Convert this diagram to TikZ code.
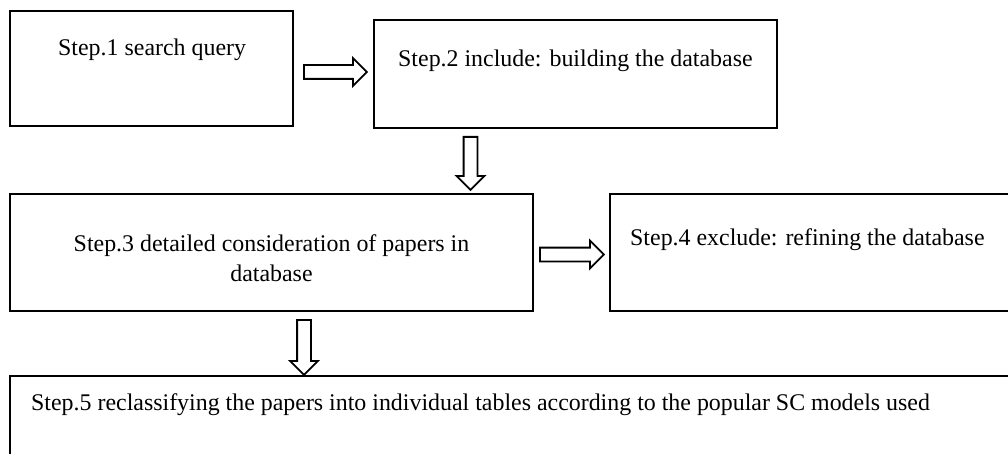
\documentclass[tikz,border=0pt]{standalone}
\usepackage{fontspec}
\setmainfont{Liberation Serif}
\usepackage{tikz}
\usetikzlibrary{positioning, shapes.arrows}

\begin{document}
\begin{tikzpicture}[
        x=1pt, y=-1pt,
        every node/.style={font=\fontsize{23.9}{30}\selectfont},
        stepbox/.style={rectangle, draw=black, line width=2pt, inner sep=0pt},
        steptext/.style={inner sep=0pt, anchor=base west},
        blockarrow/.style={single arrow, draw=black, line width=1.8pt, inner sep=6pt,
                           single arrow head extend=7pt, single arrow head indent=0pt, anchor=tail}
    ]
    \useasboundingbox (0,0) rectangle (1008,454);
    \clip (0,0) rectangle (1008,454);

    % Boxes
    \node (step1) [stepbox, minimum width=283pt, minimum height=115pt] at (151.5,68.5) {};
    \node (step2) [stepbox, minimum width=403pt, minimum height=108pt] at (575.5,74) {};
    \node (step3) [stepbox, minimum width=523pt, minimum height=117pt] at (271.5,252.5) {};
    \node (step4) [stepbox, minimum width=410pt, minimum height=117pt] at (815,252.5) {};
    \node (step5) [stepbox, minimum width=1010pt, minimum height=94pt] at (515,423) {};

    % Texts
    \node (text1) [steptext] at ([shift={(49,46)}]step1.north west) {Step.1 search query};
    \node (text2) [steptext] at ([shift={(25,48)}]step2.north west) {Step.2 include: building the database};
    \node (text3) [inner sep=0pt, align=center] at ([shift={(0,5.5)}]step3.center)
        {Step.3 detailed consideration of papers in\\database};
    \node (text4) [steptext] at ([shift={(21,52)}]step4.north west) {Step.4 exclude: refining the database};
    \node (text5) [steptext] at ([shift={(22,35)}]step5.north west)
        {Step.5 reclassifying the papers into individual tables according to the popular SC models used};

    % Arrows
    \node (arrow12) [blockarrow, minimum height=63pt] at ([shift={(9,3.5)}]step1.east) {};
    \node (arrow23) [blockarrow, minimum height=53pt, shape border rotate=270] at ([shift={(97.5,7)}]step2.south west) {};
    \node (arrow34) [blockarrow, minimum height=64pt] at ([shift={(5,2)}]step3.east) {};
    \node (arrow35) [blockarrow, minimum height=55pt, shape border rotate=270] at ([shift={(32.5,7)}]step3.south) {};

\end{tikzpicture}
\end{document}
